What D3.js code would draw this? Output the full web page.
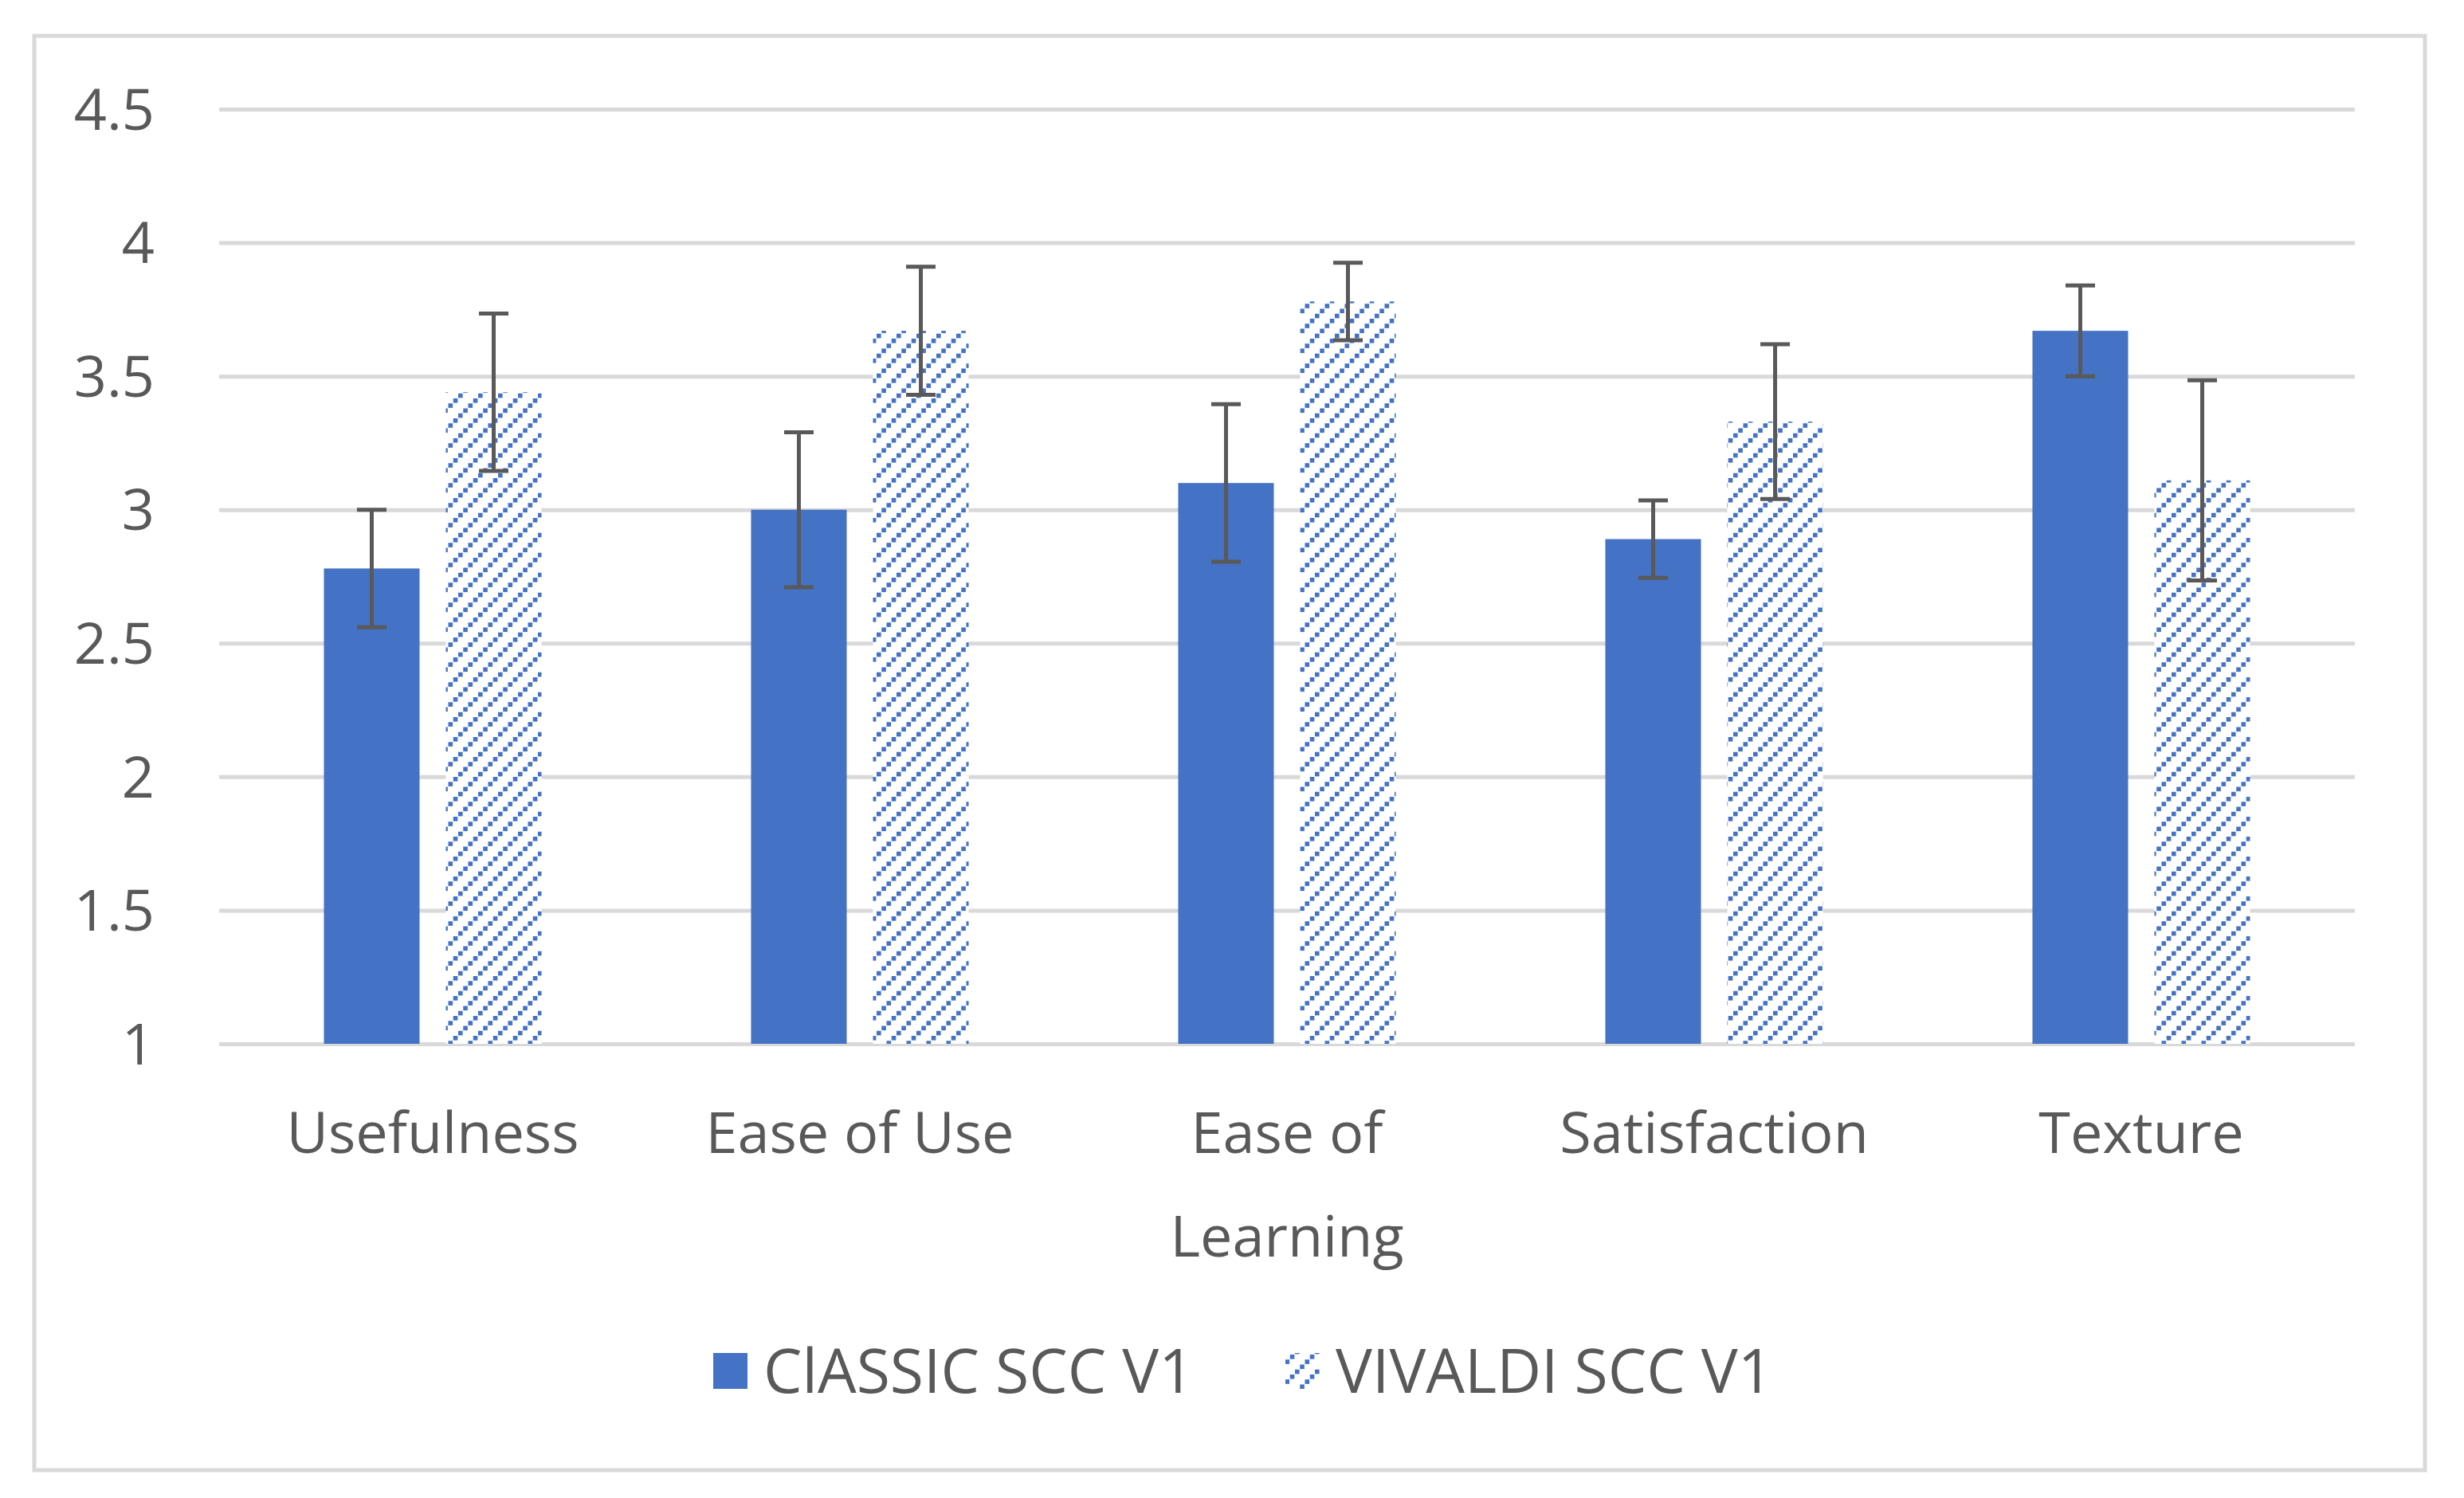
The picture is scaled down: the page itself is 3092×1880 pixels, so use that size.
<!DOCTYPE html>
<html><head><meta charset="utf-8">
<script src="https://cdn.jsdelivr.net/npm/d3@7"></script>
<style>
body{margin:0;background:#fff}
text{font-family:"Open Sans","Noto Sans",sans-serif;fill:#595959}
</style>
</head><body>
<svg id="chart" width="3092" height="1880"></svg>
<script>
// ---- data ----
const categories = ["Usefulness", "Ease of Use", "Ease of Learning", "Satisfaction", "Texture"];
const seriesNames = ["ClASSIC SCC V1", "VIVALDI SCC V1"];
const classicValues = [2.78, 3.00, 3.10, 2.89, 3.67];
const classicErrors = [0.22, 0.29, 0.295, 0.145, 0.17];
const vivaldiValues = [3.44, 3.67, 3.78, 3.33, 3.11];
const vivaldiErrors = [0.295, 0.24, 0.145, 0.29, 0.375];
const yTicks = [1, 1.5, 2, 2.5, 3, 3.5, 4, 4.5];

// ---- layout ----
const W = 3092, H = 1880;
const plotLeft = 275, plotRight = 2955, plotTop = 137, plotBottom = 1310;
const blue = "#4472c4", grid = "#d9d9d9", textCol = "#595959";
const svg = d3.select("#chart");
svg.append("rect").attr("width", W).attr("height", H).attr("fill", "#fff");

// hatch pattern (dotted upward diagonal)
const px = 6.25, sq = 5.6;
const defs = svg.append("defs");
const pat = defs.append("pattern").attr("id", "hatch")
  .attr("patternUnits", "userSpaceOnUse")
  .attr("width", 4 * px).attr("height", 4 * px);
pat.append("rect").attr("width", 4 * px).attr("height", 4 * px).attr("fill", "#fff");
[[3, 0], [2, 1], [1, 2], [0, 3]].forEach(([c, r]) => {
  pat.append("rect").attr("x", c * px).attr("y", r * px)
    .attr("width", sq).attr("height", sq).attr("fill", blue);
});

// outer border
svg.append("rect").attr("x", 43).attr("y", 45).attr("width", 3000).attr("height", 1800)
  .attr("fill", "none").attr("stroke", grid).attr("stroke-width", 5);

const y = d3.scaleLinear().domain([1, 4.5]).range([plotBottom, plotTop]);
const x0 = d3.scaleBand().domain(categories).range([plotLeft, plotRight]).padding(0);
const x1 = d3.scaleBand().domain(seriesNames).range([0, x0.bandwidth()])
  .paddingInner(0.2157).paddingOuter(0.859);

// gridlines via axis
const yAxis = d3.axisLeft(y).tickValues(yTicks).tickSize(-(plotRight - plotLeft)).tickFormat(d3.format("~g"));
const gy = svg.append("g").attr("transform", `translate(${plotLeft},0)`).call(yAxis);
gy.select(".domain").remove();
gy.selectAll(".tick line").attr("stroke", grid).attr("stroke-width", 5);
gy.selectAll(".tick text").attr("x", 194 - plotLeft).attr("dy", "0.35em")
  .attr("font-size", 72).attr("fill", textCol).style("font-family", '"Open Sans","Noto Sans",sans-serif');

// bars
const series = [
  { name: seriesNames[0], values: classicValues, errors: classicErrors, fill: blue },
  { name: seriesNames[1], values: vivaldiValues, errors: vivaldiErrors, fill: "url(#hatch)" }
];
series.forEach(s => {
  const g = svg.append("g");
  g.selectAll("rect").data(categories).join("rect")
    .attr("x", (c) => x0(c) + x1(s.name))
    .attr("y", (c, i) => y(s.values[i]))
    .attr("width", x1.bandwidth())
    .attr("height", (c, i) => y(1) - y(s.values[i]))
    .attr("fill", s.fill);
});
// error bars
series.forEach(s => {
  const g = svg.append("g").attr("stroke", "#595959").attr("stroke-width", 5);
  categories.forEach((c, i) => {
    const cx = x0(c) + x1(s.name) + x1.bandwidth() / 2;
    const hi = y(s.values[i] + s.errors[i]), lo = y(s.values[i] - s.errors[i]);
    g.append("line").attr("x1", cx).attr("x2", cx).attr("y1", hi).attr("y2", lo);
    g.append("line").attr("x1", cx - 18.5).attr("x2", cx + 18.5).attr("y1", hi).attr("y2", hi);
    g.append("line").attr("x1", cx - 18.5).attr("x2", cx + 18.5).attr("y1", lo).attr("y2", lo);
  });
});

// category labels with wrapping
const lab = svg.append("g");
categories.forEach(c => {
  const t = lab.append("text").attr("text-anchor", "middle").attr("font-size", 72)
    .attr("x", x0(c) + x0.bandwidth() / 2).attr("y", 1447);
  const words = c.split(" ");
  let line = [], lines = [];
  const probe = lab.append("text").attr("font-size", 72);
  words.forEach(w => {
    const test = line.concat([w]).join(" ");
    probe.text(test);
    if (probe.node().getComputedTextLength() > 470 && line.length) { lines.push(line.join(" ")); line = [w]; }
    else line.push(w);
  });
  lines.push(line.join(" "));
  probe.remove();
  lines.forEach((l, k) => {
    t.append("tspan").attr("x", x0(c) + x0.bandwidth() / 2).attr("y", 1447 + k * 130).text(l);
  });
});

// legend
const legend = svg.append("g");
const legendItems = [
  { name: seriesNames[0], fill: blue, mx: 895, tx: 958 },
  { name: seriesNames[1], fill: "url(#hatch)", mx: 1613, tx: 1676 }
];
legendItems.forEach(d => {
  legend.append("rect").attr("x", d.mx).attr("y", 1698).attr("width", 43).attr("height", 45).attr("fill", d.fill);
  legend.append("text").attr("x", d.tx).attr("y", 1748).attr("font-size", 77).text(d.name);
});
</script>
</body></html>
